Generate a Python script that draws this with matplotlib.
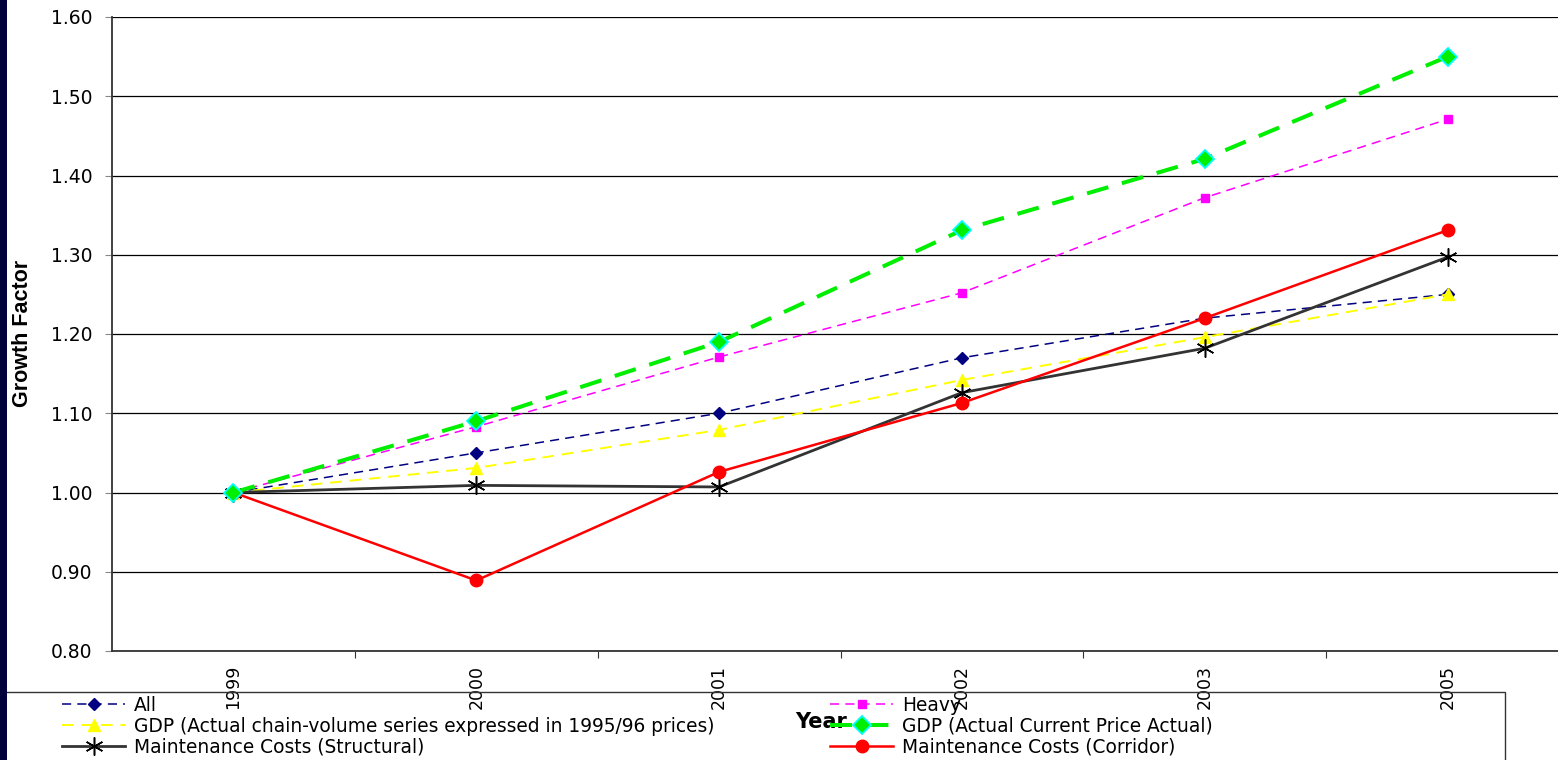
import matplotlib
matplotlib.use("Agg")
import matplotlib.pyplot as plt
from matplotlib.patches import Rectangle

plt.rcParams['font.family'] = ['DejaVu Sans']

years = ["1999", "2000", "2001", "2002", "2003", "2005"]
all_vals = [1.00, 1.050, 1.100, 1.170, 1.220, 1.250]
heavy_vals = [1.00, 1.083, 1.171, 1.252, 1.372, 1.471]
gdp_chain_vals = [1.00, 1.031, 1.079, 1.142, 1.196, 1.250]
gdp_current_vals = [1.00, 1.090, 1.190, 1.331, 1.421, 1.550]
maint_struct_vals = [1.00, 1.009, 1.007, 1.126, 1.182, 1.297]
maint_corr_vals = [1.00, 0.889, 1.026, 1.113, 1.220, 1.331]

W, H = 1558, 760
fig = plt.figure(figsize=(W / 100, H / 100), dpi=100)
fig.patch.set_facecolor('white')

left, right, top, bottom = 112, 1569, 17, 651
ax = fig.add_axes([left / W, 1 - bottom / H, (right - left) / W, (bottom - top) / H])
ax.set_facecolor('none')

x = list(range(len(years)))

h_all, = ax.plot(x, all_vals, color='#000080', lw=1.1, ls=(0, (6, 4)),
                 marker='D', ms=6, mfc='#000080', mec='#000080', label='All', zorder=4)
h_heavy, = ax.plot(x, heavy_vals, color='#FF00FF', lw=1.1, ls=(0, (6, 4)),
                   marker='s', ms=6, mfc='#FF00FF', mec='#FF00FF', label='Heavy', zorder=4)
h_gchain, = ax.plot(x, gdp_chain_vals, color='#FFFF00', lw=1.4, ls=(0, (6, 4)),
                    marker='^', ms=8.5, mfc='#FFFF00', mec='#FFFF00',
                    label='GDP (Actual chain-volume series expressed in 1995/96 prices)', zorder=4)
h_gcur, = ax.plot(x, gdp_current_vals, color='#00EE00', lw=2.9, ls=(0, (5.5, 3.5)),
                  marker='D', ms=9, mfc='#00EE00', mec='#00FFFF', mew=1.3,
                  label='GDP (Actual Current Price Actual)', zorder=5)
h_struct, = ax.plot(x, maint_struct_vals, color='#333333', lw=2.0, ls='-',
                    marker=(6, 2, 0), ms=13, mfc='black', mec='black', mew=1.1,
                    label='Maintenance Costs (Structural)', zorder=4)
h_corr, = ax.plot(x, maint_corr_vals, color='#FF0000', lw=1.8, ls='-',
                  marker='o', ms=9, mfc='#FF0000', mec='#FF0000',
                  label='Maintenance Costs (Corridor)', zorder=4)

ax.set_xlim(-0.5, len(years) - 0.5)
ax.set_ylim(0.80, 1.60)
yt = [0.80 + 0.1 * i for i in range(9)]
ax.set_yticks(yt)
ax.set_yticklabels([f"{v:.2f}" for v in yt], fontsize=13.5)
ax.yaxis.grid(True, color='black', lw=0.9)
ax.set_axisbelow(True)

ax.set_xticks([i + 0.5 for i in range(len(years) - 1)])
ax.set_xticklabels([])
ax.set_xticks(x, minor=True)
ax.set_xticklabels(years, minor=True, rotation=90, fontsize=12.5)
ax.tick_params(axis='x', which='minor', length=0, pad=10)
ax.tick_params(axis='x', which='major', length=5, direction='out', color='#333333')
ax.tick_params(axis='y', length=5, direction='out', color='#888888', pad=9)

for s in ['top', 'right']:
    ax.spines[s].set_visible(False)
ax.spines['left'].set_color('#333333')
ax.spines['bottom'].set_color('#333333')
ax.spines['left'].set_linewidth(1.3)
ax.spines['bottom'].set_linewidth(1.3)

fig.text(23 / W, 1 - 333 / H, 'Growth Factor', rotation=90, fontsize=15.5,
         fontweight='bold', ha='center', va='center', family='Liberation Sans')
fig.text(821 / W, 1 - 722 / H, 'Year', fontsize=15, fontweight='bold',
         ha='center', va='center')

# left dark bar
fig.add_artist(Rectangle((0, 0), 7 / W, 1, transform=fig.transFigure,
                         facecolor='#00003A', edgecolor='none', zorder=10))

# legend frame
fig.add_artist(Rectangle((5 / W, -0.05), (1505 - 5) / W, 0.05 + 1 - 692 / H,
                         transform=fig.transFigure, facecolor='none',
                         edgecolor='#333333', lw=1.0, zorder=3))

col1 = [h_all, h_gchain, h_struct]
col2 = [h_heavy, h_gcur, h_corr]
legkw = dict(loc='upper left', frameon=False, fontsize=13.4, handlelength=3.4,
             handletextpad=0.45, labelspacing=0.1, borderpad=0.0, borderaxespad=0.0)
leg1 = fig.legend(handles=col1, labels=[h.get_label() for h in col1],
                  bbox_to_anchor=(62 / W, 1 - 696 / H), **legkw)
leg2 = fig.legend(handles=col2, labels=[h.get_label() for h in col2],
                  bbox_to_anchor=(830 / W, 1 - 696 / H), **legkw)

fig.savefig('out.png', dpi=100)
